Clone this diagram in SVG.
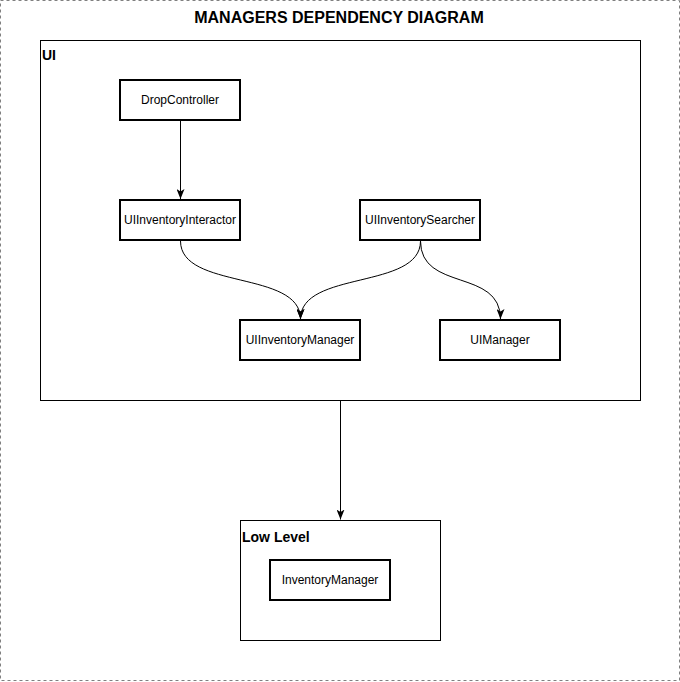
<svg xmlns="http://www.w3.org/2000/svg" width="680" height="682" viewBox="0 0 680 682">
<style>
.frame{fill:#fff;stroke:#808080;stroke-width:1;stroke-dasharray:3 3}
.cont{fill:#fff;stroke:#000;stroke-width:1}
.node rect{fill:#fff;stroke:#000;stroke-width:2}
.lbl{font-family:"Liberation Sans",Arial,sans-serif;font-size:12px;fill:#000;text-anchor:middle}
.clbl{font-family:"Liberation Sans",Arial,sans-serif;font-size:14px;font-weight:bold;fill:#000}
.edge{fill:none;stroke:#000;stroke-width:1;marker-end:url(#arr)}
</style>
<defs>
<marker id="arr" viewBox="0 0 10 8" refX="10" refY="4" markerWidth="10" markerHeight="8" markerUnits="userSpaceOnUse" orient="auto">
<path d="M0,0 L10,4 L0,8 L2.5,4 z" fill="#000"/>
</marker>
</defs>
<rect class="frame" x="0.5" y="0.5" width="679" height="680"/>
<text x="339" y="23" font-family="'Liberation Sans',Arial,sans-serif" font-size="16" font-weight="bold" text-anchor="middle">MANAGERS DEPENDENCY DIAGRAM</text>
<g id="ui-container">
<rect class="cont" x="40.5" y="40.5" width="600" height="360"/>
<text class="clbl" x="42" y="60">UI</text>
</g>
<g id="lowlevel-container">
<rect class="cont" x="240.5" y="520.5" width="200" height="120"/>
<text class="clbl" x="242" y="542">Low Level</text>
</g>
<g id="edges">
<path class="edge" d="M180.5,121 L180.5,199"/>
<path class="edge" d="M180.5,241 C180.5,290 300.5,270 300.5,319"/>
<path class="edge" d="M420.5,241 C420.5,290 300.5,270 300.5,319"/>
<path class="edge" d="M420.5,241 C420.5,292 500.5,268 500.5,319"/>
<path class="edge" d="M340.5,401 L340.5,519.5"/>
</g>
<g id="DropController" class="node">
<rect x="120" y="80" width="120" height="40"/>
<text class="lbl" x="180" y="104">DropController</text>
</g>
<g id="UIInventoryInteractor" class="node">
<rect x="120" y="200" width="120" height="40"/>
<text class="lbl" x="180" y="224">UIInventoryInteractor</text>
</g>
<g id="UIInventorySearcher" class="node">
<rect x="360" y="200" width="120" height="40"/>
<text class="lbl" x="420" y="224">UIInventorySearcher</text>
</g>
<g id="UIInventoryManager" class="node">
<rect x="240" y="320" width="120" height="40"/>
<text class="lbl" x="300" y="344">UIInventoryManager</text>
</g>
<g id="UIManager" class="node">
<rect x="440" y="320" width="120" height="40"/>
<text class="lbl" x="500" y="344">UIManager</text>
</g>
<g id="InventoryManager" class="node">
<rect x="270" y="560" width="120" height="40"/>
<text class="lbl" x="330" y="584">InventoryManager</text>
</g>
</svg>
